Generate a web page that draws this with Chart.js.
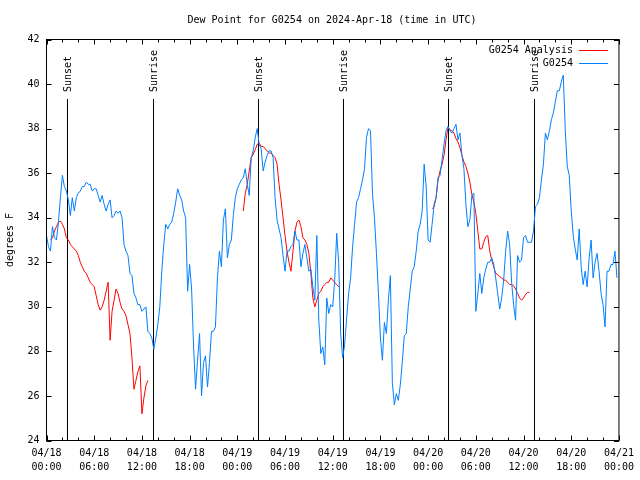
<!DOCTYPE html>
<html>
<head>
<meta charset="utf-8">
<script src="https://cdn.jsdelivr.net/npm/chart.js@4.4.1/dist/chart.umd.min.js"></script>
<style>
  html, body { margin: 0; padding: 0; background: #fff; }
</style>
</head>
<body>
<canvas id="chart" width="640" height="480"></canvas>
<script>
const titleText = 'Dew Point for G0254 on 2024-Apr-18 (time in UTC)';
const yTitle = 'degrees F';
const obsLabel = 'G0254';
const analysisLabel = 'G0254 Analysis';

// x axis runs in hours from 04/18 00:00 UTC
const tickDates = ['04/18', '04/18', '04/18', '04/18', '04/19', '04/19', '04/19', '04/19', '04/20', '04/20', '04/20', '04/20', '04/21'];
const tickTimes = ['00:00', '06:00', '12:00', '18:00', '00:00', '06:00', '12:00', '18:00', '00:00', '06:00', '12:00', '18:00', '00:00'];

// sunset / sunrise markers (hours)
const eventHours = [2.6, 13.35, 26.55, 37.3, 50.55, 61.3];
const eventLabels = ['Sunset', 'Sunrise', 'Sunset', 'Sunrise', 'Sunset', 'Sunrise'];

// station obs, every 15 min starting at hour 0
const obsStartHour = 0;
const obsStepHours = 0.25;
const obsDewPoint = [
  33.2, 32.7, 32.5, 33.6, 33.1, 33.0, 33.8, 34.9, 35.9, 35.4, 35.2, 34.8,
  34.1, 34.9, 34.3, 34.9, 35.1, 35.2, 35.4, 35.4, 35.6, 35.5, 35.5, 35.2,
  35.3, 35.3, 35.0, 34.7, 35.0, 34.6, 34.3, 34.6, 34.8, 34.0, 34.1, 34.3,
  34.2, 34.3, 34.0, 32.8, 32.5, 32.3, 31.5, 31.4, 30.6, 30.4, 30.1, 30.1,
  29.8, 29.9, 30.0, 28.9, 28.8, 28.6, 28.1, 28.6, 29.2, 30.0, 31.6, 32.8,
  33.7, 33.5, 33.7, 33.8, 34.2, 34.7, 35.3, 35.0, 34.8, 34.3, 34.0, 30.7,
  31.9, 30.8, 28.2, 26.3, 27.6, 28.8, 26.0, 27.5, 27.8, 26.4, 27.5, 28.9,
  28.9, 29.1, 31.3, 32.5, 31.8, 33.9, 34.4, 32.2, 32.8, 33.0, 34.1, 34.9,
  35.3, 35.5, 35.7, 35.8, 36.2, 35.5, 35.0, 36.7, 37.0, 37.6, 38.0, 37.3,
  37.1, 36.1, 36.5, 36.8, 37.0, 37.0, 36.7, 34.9, 33.9, 33.5, 33.1, 32.3,
  31.6, 32.5, 32.5, 32.7, 32.8, 33.4, 33.0, 33.0, 31.8, 32.4, 32.8, 32.2,
  31.6, 31.7, 30.9, 30.3, 33.2, 29.4, 27.9, 28.2, 27.4, 30.4, 29.7, 30.1,
  30.0, 31.2, 33.3, 32.0, 28.8, 27.7, 28.3, 29.5, 30.6, 31.3, 32.7, 33.7,
  34.7, 34.9, 35.3, 35.7, 36.2, 37.6, 38.0, 37.9, 35.1, 34.0, 32.4, 30.6,
  28.6, 27.6, 29.3, 28.8, 30.3, 31.4, 26.6, 25.6, 26.1, 25.8, 26.5, 27.5,
  28.7, 28.8, 30.0, 30.8, 31.6, 31.8, 32.5, 33.4, 33.7, 34.3, 36.4, 35.4,
  33.0, 32.9, 33.7, 34.6, 34.9, 35.8, 35.9, 36.6, 37.3, 37.9, 38.1, 37.9,
  37.8, 38.0, 38.2, 37.5, 37.8, 36.8, 36.2, 34.6, 33.6, 33.9, 35.0, 35.1,
  29.8, 30.6, 31.5, 30.6, 31.3, 31.7, 32.0, 32.0, 32.2, 31.9, 31.3, 30.6,
  29.9, 30.4, 31.2, 32.5, 33.4, 32.8, 31.1, 30.1, 29.4, 32.3, 32.0, 32.1,
  33.1, 33.2, 32.9, 32.9, 32.9, 33.4, 34.5, 34.6, 34.9, 35.7, 36.4, 37.8,
  37.5, 37.9, 38.4, 38.7, 39.2, 39.7, 39.7, 40.1, 40.4, 37.9, 36.3, 35.9,
  34.3, 33.2, 32.6, 32.1, 33.5, 31.8, 31.0, 31.6, 30.9, 32.2, 33.0, 31.3,
  32.0, 32.4, 31.6, 30.6, 30.1, 29.1, 31.6, 31.6, 31.9, 31.9, 32.5, 31.3
];

// analysis runs, 15 min steps, one block per night
const analysisStarts = [0.5, 24.75, 48.5];
const analysisNight1 = [
  33.0, 33.1, 33.4, 33.6, 33.8, 33.85, 33.7, 33.5, 33.1, 33.0, 32.8, 32.7,
  32.6, 32.5, 32.3, 32.0, 31.8, 31.6, 31.5, 31.3, 31.1, 31.0, 30.9, 30.5,
  30.1, 29.85, 30.0, 30.3, 30.7, 31.1, 28.5, 29.8, 30.3, 30.8, 30.6, 30.2,
  29.9, 29.8, 29.6, 29.2, 28.8, 27.7, 26.3, 26.7, 27.1, 27.35, 25.2, 25.9,
  26.45, 26.7
];
const analysisNight2 = [
  34.3, 35.1, 35.5, 36.1, 36.7, 36.85, 37.05, 37.3, 37.35, 37.2, 37.2, 37.1,
  37.0, 36.9, 36.9, 36.8, 36.7, 36.4, 35.5, 34.8, 34.0, 33.2, 32.5, 32.0,
  31.6, 32.5, 33.4, 33.8, 33.9, 33.6, 33.1, 33.0, 32.8, 32.4, 31.5, 30.4,
  30.0, 30.3, 30.6, 30.7, 30.9, 31.0, 31.1, 31.1, 31.3, 31.2, 31.1, 31.0,
  30.9
];
const analysisNight3 = [
  34.4, 34.5, 34.9, 35.7, 36.1, 36.4, 36.8, 37.5, 38.05, 37.95, 37.9, 37.8,
  37.55, 37.4, 37.15, 36.8, 36.5, 36.3, 36.0, 35.6, 35.05, 34.7, 34.2, 33.4,
  32.6, 32.6, 32.9, 33.15, 33.2, 32.5, 32.1, 31.8, 31.5, 31.45, 31.35, 31.3,
  31.2, 31.2, 31.1, 31.0, 31.0, 30.95, 30.8, 30.6, 30.4, 30.3, 30.4, 30.55,
  30.65, 30.65
];

const FONT = "'DejaVu Sans Mono', 'Liberation Mono', monospace";

const obsPoints = obsDewPoint.map((v, i) => ({ x: obsStartHour + i * obsStepHours, y: v }));
const analysisPoints = [];
[analysisNight1, analysisNight2, analysisNight3].forEach((night, k) => {
    if (k > 0) analysisPoints.push({ x: analysisStarts[k] - obsStepHours, y: null });
    night.forEach((v, i) => analysisPoints.push({ x: analysisStarts[k] + i * obsStepHours, y: v }));
});

// gnuplot style title, frame, inward tics, sun markers and key
const gnuplotBits = {
    id: 'gnuplotBits',
    beforeDatasetsDraw(chart) {
        const { ctx, chartArea, scales } = chart;
        ctx.save();
        ctx.strokeStyle = '#000';
        ctx.lineWidth = 1;
        ctx.fillStyle = '#000';
        ctx.font = '10px ' + FONT;
        eventHours.forEach((h, i) => {
            const px = Math.round(scales.x.getPixelForValue(h)) + 0.5;
            ctx.beginPath();
            ctx.moveTo(px, chartArea.top + 59.5);
            ctx.lineTo(px, chartArea.bottom);
            ctx.stroke();
            ctx.save();
            ctx.translate(px + 1, chartArea.top + 52.5);
            ctx.rotate(-Math.PI / 2);
            ctx.textAlign = 'left';
            ctx.textBaseline = 'middle';
            ctx.fillText(eventLabels[i], 0, 0);
            ctx.restore();
        });
        ctx.restore();
    },
    afterDraw(chart) {
        const { ctx, chartArea, scales } = chart;
        const { left, right, top, bottom } = chartArea;
        ctx.save();
        ctx.fillStyle = '#000';
        ctx.font = '10px ' + FONT;
        ctx.textAlign = 'center';
        ctx.textBaseline = 'middle';
        ctx.fillText(titleText, 332, 20);

        ctx.strokeStyle = '#000';
        ctx.lineWidth = 1;
        ctx.strokeRect(left, top, right - left, bottom - top);

        ctx.beginPath();
        scales.y.ticks.forEach(t => {
            const py = Math.round(scales.y.getPixelForValue(t.value)) + 0.5;
            ctx.moveTo(left, py); ctx.lineTo(left + 5, py);
            ctx.moveTo(right, py); ctx.lineTo(right - 5, py);
        });
        scales.x.ticks.forEach(t => {
            const px = Math.round(scales.x.getPixelForValue(t.value)) + 0.5;
            const len = t.value % 6 === 0 ? 5 : 3;
            ctx.moveTo(px, bottom); ctx.lineTo(px, bottom - len);
            ctx.moveTo(px, top); ctx.lineTo(px, top + len);
        });
        ctx.stroke();

        // key
        ctx.textAlign = 'right';
        const keys = [[analysisLabel, '#ff0000'], [obsLabel, '#0080ff']];
        keys.forEach((k, i) => {
            const ky = top + 10.5 + i * 13;
            ctx.fillText(k[0], right - 46, ky);
            ctx.strokeStyle = k[1];
            ctx.beginPath();
            ctx.moveTo(right - 40, ky + 0.5);
            ctx.lineTo(right - 11, ky + 0.5);
            ctx.stroke();
        });
        ctx.restore();
    }
};

new Chart(document.getElementById('chart'), {
    type: 'line',
    data: {
        datasets: [
            {
                label: obsLabel,
                data: obsPoints,
                borderColor: '#0080ff',
                borderWidth: 1,
                pointRadius: 0,
                tension: 0,
                fill: false,
                order: 0
            },
            {
                label: analysisLabel,
                data: analysisPoints,
                borderColor: '#ff0000',
                borderWidth: 1,
                pointRadius: 0,
                tension: 0,
                fill: false,
                spanGaps: false,
                order: 1
            }
        ]
    },
    options: {
        responsive: false,
        animation: false,
        devicePixelRatio: 1,
        layout: { padding: { left: 0, right: 18.5, top: 39.5, bottom: 0 } },
        plugins: {
            legend: { display: false },
            tooltip: { enabled: false },
            title: { display: false }
        },
        scales: {
            x: {
                type: 'linear',
                min: 0,
                max: 72,
                grid: { display: false, drawTicks: false },
                border: { display: false },
                afterFit: (scale) => { scale.height = 39.5; },
                ticks: {
                    stepSize: 2,
                    autoSkip: false,
                    maxRotation: 0,
                    padding: 6,
                    color: '#000',
                    font: { family: FONT, size: 10, lineHeight: 1.4 },
                    callback: (v) => (v % 6 === 0 ? [tickDates[v / 6], tickTimes[v / 6]] : '')
                }
            },
            y: {
                min: 24,
                max: 42,
                grid: { display: false, drawTicks: false },
                border: { display: false },
                afterFit: (scale) => { scale.width = 46.5; },
                title: {
                    display: true,
                    text: yTitle,
                    color: '#000',
                    font: { family: FONT, size: 10, lineHeight: 1.2 },
                    padding: { top: 4, bottom: 0 }
                },
                ticks: {
                    stepSize: 2,
                    padding: 7,
                    color: '#000',
                    font: { family: FONT, size: 10 }
                }
            }
        }
    },
    plugins: [gnuplotBits]
});
</script>
</body>
</html>
